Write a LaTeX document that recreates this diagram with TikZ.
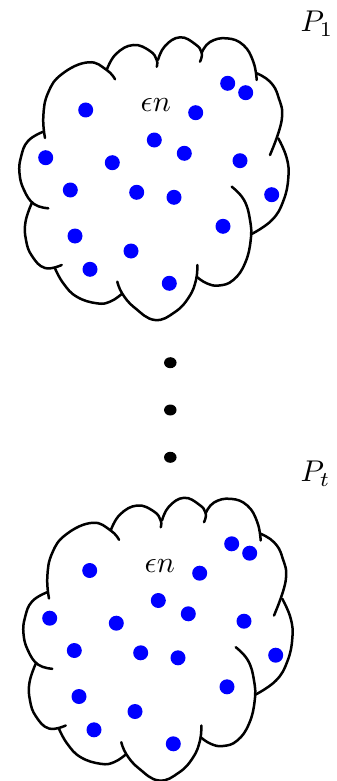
\documentclass[tikz,border=0pt]{standalone}
\usetikzlibrary{shapes.geometric}
\tikzset{
  cloudline/.style={line width=2.5pt, line cap=round},
  bdot/.style={circle, fill=blue, minimum size=15pt, inner sep=0pt},
  kdot/.style={ellipse, fill=black, minimum width=12.5pt, minimum height=11pt, inner sep=0pt},
  lab/.style={inner sep=0pt, scale=3},
  cloudset/.pic={
    % outline bumps
    \draw[cloudline] plot[smooth, tension=0.75] coordinates {(45,138) (43.3,116.7) (48,93) (62,74) (88.3,62.3) (106.7,70) (115,79.3)};
    \draw[cloudline] plot[smooth, tension=0.75] coordinates {(106.7,70) (116,54) (133.3,45) (150,51) (156.7,60) (156.7,66.7)};
    \draw[cloudline] plot[smooth, tension=0.75] coordinates {(158,60) (165,46) (180,37.3) (195,44) (201.7,52.7) (200,61.7)};
    \draw[cloudline] plot[smooth, tension=0.75] coordinates {(201.7,52.7) (210,42) (226.7,38.3) (243.3,45) (253.3,61.7) (256.7,80)};
    \draw[cloudline] plot[smooth, tension=0.75] coordinates {(256.7,73.3) (270,81.7) (278.3,96.7) (281.7,120) (270,155)};
    \draw[cloudline] plot[smooth, tension=0.75] coordinates {(278.3,138.3) (286.7,158) (288.3,178) (283.3,201) (272,220) (251.7,234)};
    \draw[cloudline] plot[smooth, tension=0.75] coordinates {(231.7,186.7) (244,200) (250,220) (250.7,240) (245,263.3) (233.3,280) (219,285.5) (206.7,283.3) (196.7,276.7)};
    \draw[cloudline] plot[smooth, tension=0.75] coordinates {(197.3,265) (196,280) (189,297) (175,312) (155,320) (135,308) (122.5,294) (117.3,281.7)};
    \draw[cloudline] plot[smooth, tension=0.75] coordinates {(55,268.3) (63.3,283.3) (76.7,296.7) (96.7,303.3) (110,301.7) (121.7,294)};
    \draw[cloudline] plot[smooth, tension=0.75] coordinates {(31.7,203.3) (25.5,222) (26,240) (32,256) (45,268) (61.7,265)};
    \draw[cloudline] plot[smooth, tension=0.75] coordinates {(43.3,131.7) (28,141) (21,157) (19.5,173.3) (24,190) (34,204) (48.3,208.3)};
    % label
    \node[lab, anchor=base west] (-en) at (140,111.7) {$\epsilon n$};
    % dots
    \node[bdot] (-d1)  at (85.7,110) {};
    \node[bdot] (-d2)  at (227.7,83.3) {};
    \node[bdot] (-d3)  at (245.7,92.7) {};
    \node[bdot] (-d4)  at (195.7,112.7) {};
    \node[bdot] (-d5)  at (154.3,140) {};
    \node[bdot] (-d6)  at (184.3,153.3) {};
    \node[bdot] (-d7)  at (45.7,157.7) {};
    \node[bdot] (-d8)  at (112.3,162.7) {};
    \node[bdot] (-d9)  at (240,160.7) {};
    \node[bdot] (-d10) at (70.3,190) {};
    \node[bdot] (-d11) at (136.7,192.3) {};
    \node[bdot] (-d12) at (174,197.3) {};
    \node[bdot] (-d13) at (271.7,194.7) {};
    \node[bdot] (-d14) at (223,226.3) {};
    \node[bdot] (-d15) at (75,236) {};
    \node[bdot] (-d16) at (131,251) {};
    \node[bdot] (-d17) at (90,269.3) {};
    \node[bdot] (-d18) at (169.3,283.3) {};
  }
}
\begin{document}
\begin{tikzpicture}[x=1pt, y=-1pt]
  \useasboundingbox (0,0) rectangle (337,781);
  \pic (c1) at (0,0) {cloudset};
  \pic (c2) at (4,460.5) {cloudset};
  \node[lab, anchor=base west] (p1) at (300,31.7) {$P_1$};
  \node[lab, anchor=base west] (pt) at (300,481.7) {$P_t$};
  \node[kdot] (k1) at (170.3,362.7) {};
  \node[kdot] (k2) at (170.3,410) {};
  \node[kdot] (k3) at (170.3,457.3) {};
\end{tikzpicture}
\end{document}
